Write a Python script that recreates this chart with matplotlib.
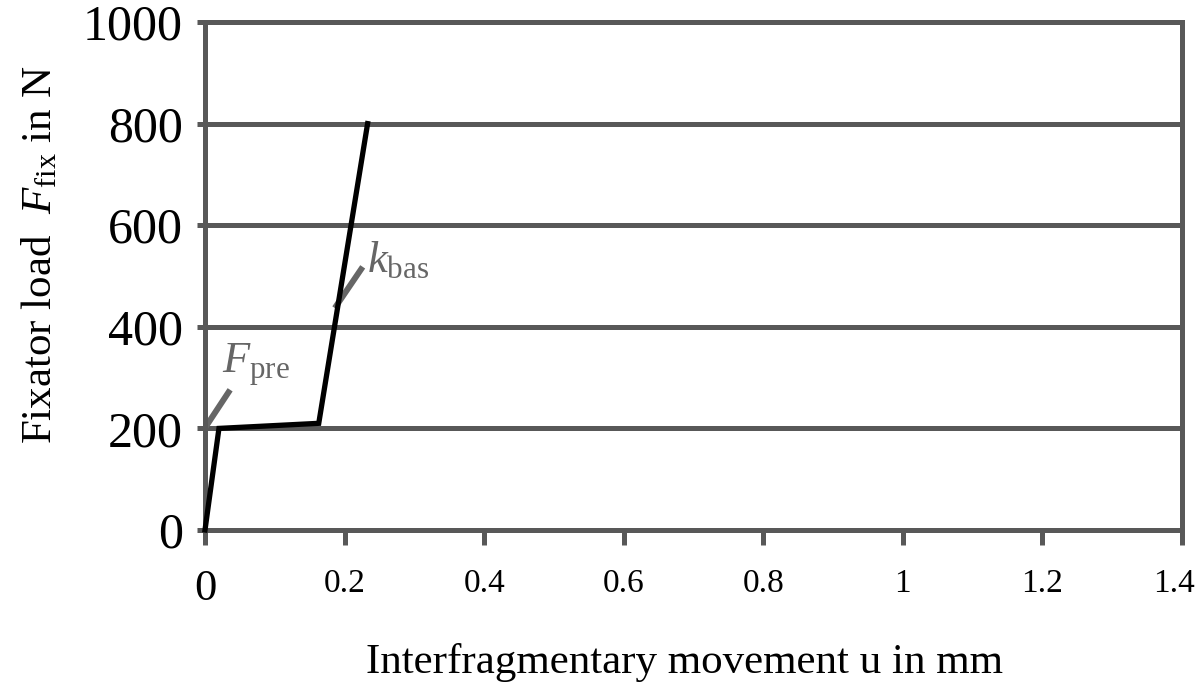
import matplotlib
matplotlib.use("Agg")
import matplotlib.pyplot as plt
from matplotlib.transforms import ScaledTranslation

plt.rcParams['font.family'] = ['Liberation Serif', 'DejaVu Serif']
plt.rcParams['mathtext.fontset'] = 'custom'
plt.rcParams['mathtext.rm'] = 'Liberation Serif'
plt.rcParams['mathtext.it'] = 'Liberation Serif:italic'

u_mm = [0.0, 0.02, 0.163, 0.233]
F_N = [0, 200, 210, 800]
x_ticks = [0, 0.2, 0.4, 0.6, 0.8, 1.0, 1.2, 1.4]
x_labels = ['0', '0.2', '0.4', '0.6', '0.8', '1', '1.2', '1.4']
y_ticks = [0, 200, 400, 600, 800, 1000]

grid_c = '#585858'
lead_c = '#666666'
fig = plt.figure(figsize=(12, 6.92), dpi=100)
ax = fig.add_axes([205/1200, 1-530/692, 977/1200, 508/692])
ax.set_xlim(0, 1.4)
ax.set_ylim(0, 1000)
for y in y_ticks:
    ax.axhline(y, color=grid_c, lw=3.6, zorder=1, clip_on=False)
for s in ['top', 'bottom']:
    ax.spines[s].set_visible(False)
for s in ['left', 'right']:
    ax.spines[s].set_color(grid_c)
    ax.spines[s].set_linewidth(3.6)
ax.plot(u_mm, F_N, color='black', lw=3.8, zorder=3, solid_joinstyle='miter', clip_on=False)

ax.set_xticks(x_ticks)
ax.set_xticklabels(x_labels, fontsize=24)
ax.set_yticks(y_ticks)
ax.set_yticklabels([str(v) for v in y_ticks], fontsize=36)
ax.tick_params(axis='x', length=10.8, width=3.6, color=grid_c, pad=17, direction='out')
ax.tick_params(axis='y', length=5.8, width=3.6, color=grid_c, pad=10, direction='out')
xtl = ax.get_xticklabels()
xtl[0].set_fontsize(32)
last = xtl[-1]
last.set_transform(last.get_transform() + ScaledTranslation(-8/100, 0, fig.dpi_scale_trans))

fig.text(685/1200, 1-673/692, 'Interfragmentary movement u in mm', fontsize=31,
         ha='center', va='baseline')
fig.text(40/1200, 1-255/692, r'Fixator load  $F_{\mathrm{fix}}$ in N', fontsize=31,
         rotation=90, ha='center', va='center')

# annotations
ax.plot([0.0, 0.036], [201, 276], color=lead_c, lw=4.3, zorder=2, solid_capstyle='butt')
ax.text(0.024, 309, r'$F_{\mathrm{pre}}$', fontsize=32, color=lead_c, va='baseline')
ax.plot([0.186, 0.226], [437, 518], color=lead_c, lw=4.3, zorder=2, solid_capstyle='butt')
ax.text(0.232, 508, r'$k_{\mathrm{bas}}$', fontsize=32, color=lead_c, va='baseline')

fig.savefig('out.png', dpi=100)
